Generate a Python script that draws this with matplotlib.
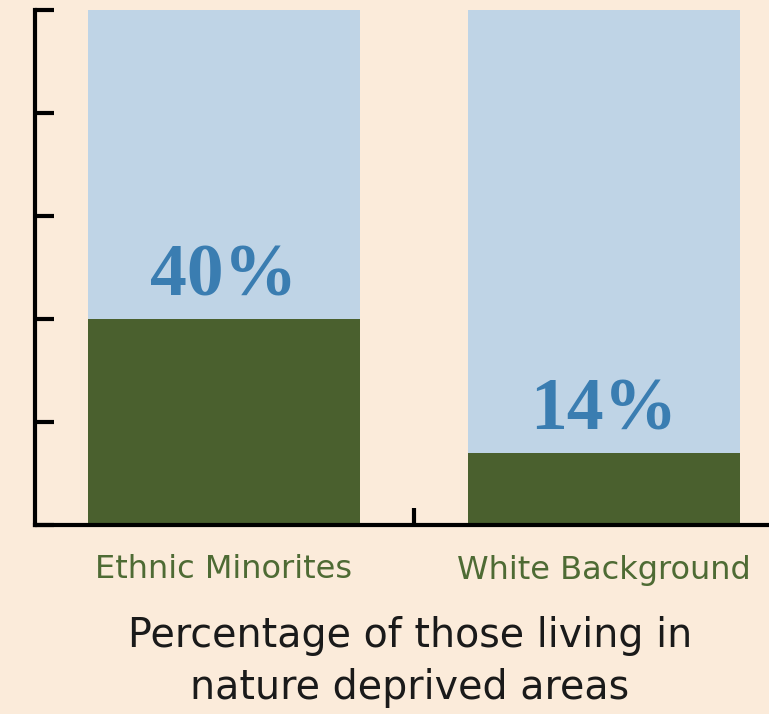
import matplotlib.pyplot as plt

groups = ["Ethnic Minorites", "White Background"]
pct_deprived = [40, 14]
total = [100, 100]
pct_labels = ["40%", "14%"]

BG = "#fbebda"
LIGHT = "#bfd4e6"
GREEN = "#4a602e"
BLUE = "#3a7db1"

fig = plt.figure(figsize=(7.69, 7.14), dpi=100, facecolor=BG)
ax = fig.add_axes([35 / 769, 1 - 525 / 714, (769 - 35) / 769, 515 / 714])
ax.set_facecolor(BG)

x = range(len(groups))
ax.bar(x, total, width=0.716, color=LIGHT, zorder=1)
ax.bar(x, pct_deprived, width=0.716, color=GREEN, zorder=2)

# value labels sit a bit above the green part
label_y = [48, 22]
for i, lab in enumerate(pct_labels):
    ax.text(i, label_y[i], lab, ha="center", va="center", color=BLUE,
            fontsize=53, fontweight="bold", family="Liberation Serif")

ax.set_xlim(-0.497, 1.434)
ax.set_ylim(0, 100)
ax.set_yticks([0, 20, 40, 60, 80, 100])
ax.set_yticklabels([])
ax.set_xticks([0.5])
ax.set_xticklabels([])
ax.tick_params(axis="y", direction="in", length=14, width=3, color="black")
ax.tick_params(axis="x", direction="in", length=12, width=3, color="black")
for s in ["top", "right"]:
    ax.spines[s].set_visible(False)
for s in ["left", "bottom"]:
    ax.spines[s].set_linewidth(3)

for i, g in enumerate(groups):
    fig.text((224 + 380 * i) / 769, 1 - 570 / 714, g, ha="center", va="center",
             color="#4e6b34", fontsize=23, family="DejaVu Sans")

fig.text(410 / 769, 1 - 662 / 714, "Percentage of those living in\nnature deprived areas",
         ha="center", va="center", color="#1a1a1a", fontsize=28.5, family="DejaVu Sans",
         linespacing=1.38)

fig.savefig("out.png", dpi=100, facecolor=BG)
